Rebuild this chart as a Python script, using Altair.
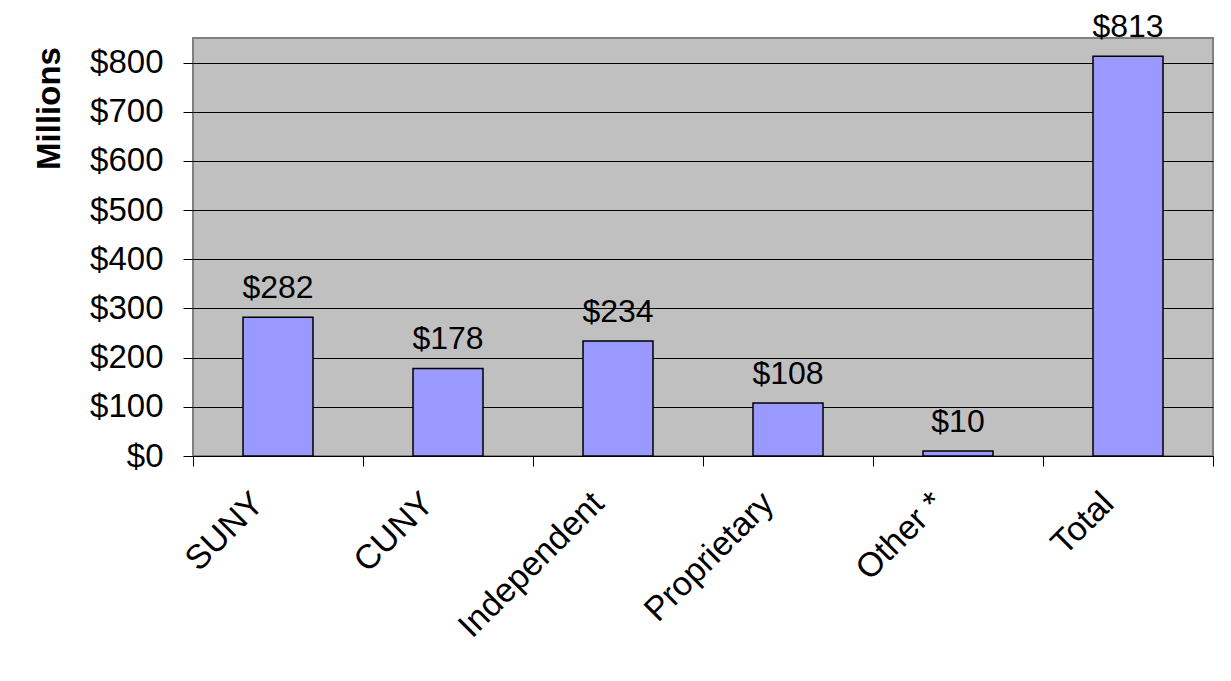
import altair as alt
import pandas as pd

categories = ["SUNY", "CUNY", "Independent", "Proprietary", "Other *", "Total"]
values = [282, 178, 234, 108, 10, 813]
labels = ["$282", "$178", "$234", "$108", "$10", "$813"]
y_ticks = [0, 100, 200, 300, 400, 500, 600, 700, 800]

df = pd.DataFrame({"cat": categories, "val": values, "lab": labels})

FONT = "Liberation Sans"
FS = 33

x = alt.X(
    "cat:N",
    sort=categories,
    title=None,
    scale=alt.Scale(paddingInner=0, paddingOuter=0),
    axis=alt.Axis(
        tickBand="extent",
        labelAngle=-45,
        labelAlign="right",
        labelBaseline="top",
        labelOffset=-32,
        labelPadding=20,
        labelLimit=0,
        tickSize=10,
        tickColor="black",
        domainColor="black",
        domainWidth=1,
        labelFont=FONT,
        labelFontSize=34,
        labelColor="black",
        grid=False,
    ),
)

y = alt.Y(
    "val:Q",
    title="Millions",
    scale=alt.Scale(domain=[0, 850], nice=False),
    axis=alt.Axis(
        values=y_ticks,
        labelExpr="'$' + datum.value",
        labelFont=FONT,
        labelFontSize=FS,
        labelColor="black",
        labelPadding=20,
        tickSize=10,
        tickColor="black",
        domain=False,
        grid=True,
        gridColor="black",
        gridWidth=1,
        titleFont=FONT,
        titleFontSize=FS,
        titleFontWeight="bold",
        titleColor="black",
        titleAngle=-90,
        titleAlign="center",
        titleBaseline="middle",
        titleX=-144,
        titleY=70,
    ),
)

bars = alt.Chart(df).mark_bar(
    width=70, color="#9999FF", stroke="black", strokeWidth=1.5
).encode(x=x, y=y)

text = alt.Chart(df).mark_text(
    font=FONT, fontSize=32, color="black", baseline="alphabetic", dy=-19
).encode(x=alt.X("cat:N", sort=categories), y=alt.Y("val:Q"), text="lab:N")

chart = (
    alt.layer(bars, text)
    .properties(
        width=1020,
        height=418,
        autosize=alt.AutoSizeParams(type="none"),
        padding={"left": 185, "top": 30, "right": 8, "bottom": 200},
        background="white",
    )
    .configure_view(fill="#C0C0C0", stroke="#808080", strokeWidth=2)
)

chart.save("out.html", embed_options={"renderer": "svg", "actions": False})
